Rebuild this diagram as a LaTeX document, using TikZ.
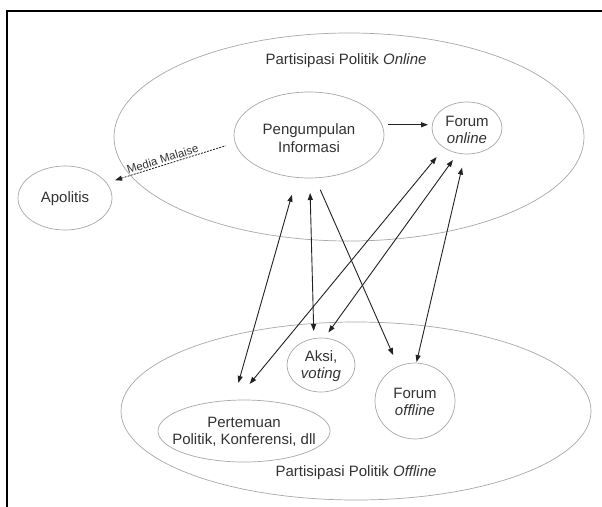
\documentclass[tikz,border=0pt]{standalone}
\usepackage{fontspec}
\setmainfont{Liberation Sans}
\usetikzlibrary{shapes.geometric,arrows.meta,calc}
\definecolor{ink}{HTML}{333333}
\definecolor{rim}{HTML}{A8A8A8}
\definecolor{arr}{HTML}{222222}
\begin{document}
\begin{tikzpicture}[x=1pt,y=-1pt,
  oval/.style={ellipse, draw=rim, line width=0.7pt, inner sep=0pt, outer sep=0pt},
  txt/.style={text=ink, font=\fontsize{15}{17.5}\selectfont, align=center, inner sep=0pt},
  con/.style={draw=arr, line width=0.9pt},
  tipA/.tip={Triangle[length=7pt,width=5pt]},
  one/.style={con, -tipA},
  both/.style={con, tipA-tipA}]
\useasboundingbox (0,0) rectangle (602,506);
\fill[white] (0,0) rectangle (602,506);
\clip (0,0) rectangle (602,506);
\draw[line width=2.2pt, black] (7,520) -- (7,11) -- (620,11);

% containers
\node[oval, minimum width=470pt, minimum height=208pt] (on) at (349,137) {};
\node[oval, minimum width=470pt, minimum height=178pt] (off) at (356,411) {};
\node[txt, anchor=base] (onT) at (346,64) {Partisipasi Politik \textit{Online}};
\node[txt, anchor=base] (offT) at (356,476) {Partisipasi Politik \textit{Offline}};

% inner ellipses
\node[oval, minimum width=150pt, minimum height=86pt] (peng) at (309,135) {};
\node[oval, minimum width=70pt, minimum height=52pt] (fon) at (467,128) {};
\node[oval, minimum width=94pt, minimum height=64pt] (apo) at (65,198) {};
\node[oval, minimum width=68pt, minimum height=54pt] (aksi) at (321,365) {};
\node[oval, minimum width=80pt, minimum height=76pt] (foff) at (415,401) {};
\node[oval, minimum width=172pt, minimum height=62pt] (pert) at (244,431) {};

\node[txt] (pengT) at ($(peng)+(0,3)$) {Pengumpulan\\Informasi};
\node[txt] (fonT) at ($(fon)+(0,2)$) {Forum\\\textit{online}};
\node[txt] (apoT) at ($(apo)+(0,1)$) {Apolitis};
\node[txt] (aksiT) at ($(aksi)+(0,1)$) {Aksi,\\\textit{voting}};
\node[txt] (foffT) at ($(foff)+(0,1)$) {Forum\\\textit{offline}};
\node[txt] (pertT) at ($(pert)+(0,1)$) {Pertemuan\\Politik, Konferensi, dll};

% connectors
\draw[one, shorten <=6pt, shorten >=4pt] (peng.8) -- (peng.8 -| fon.west);
\draw[con, line width=0.8pt, dash pattern=on 2pt off 1.2pt, tipA-, shorten <=9pt, shorten >=10pt]
  (apo.20) -- node[sloped, above, pos=0.45, inner sep=1.5pt, text=ink, font=\fontsize{11.5}{12}\selectfont] (mm) {Media Malaise} (peng.186);
\draw[both, shorten <=18pt, shorten >=18pt] (peng.254.4) -- (pert.109.5);
\draw[both, shorten <=15pt, shorten >=7.5pt] (peng.-89) -- (aksi.105);
\draw[one, shorten <=13pt, shorten >=12.5pt] (peng.-82.7) -- (foff.116.2);
\draw[both, shorten <=12pt, shorten >=21pt] (fon.221.5) -- (pert.104.9);
\draw[both, shorten <=8.5pt, shorten >=7pt] (fon.250.3) -- (aksi.83.2);
\draw[both, shorten <=14pt, shorten >=1pt] (fon.266.5) -- (foff.88);
\end{tikzpicture}
\end{document}
